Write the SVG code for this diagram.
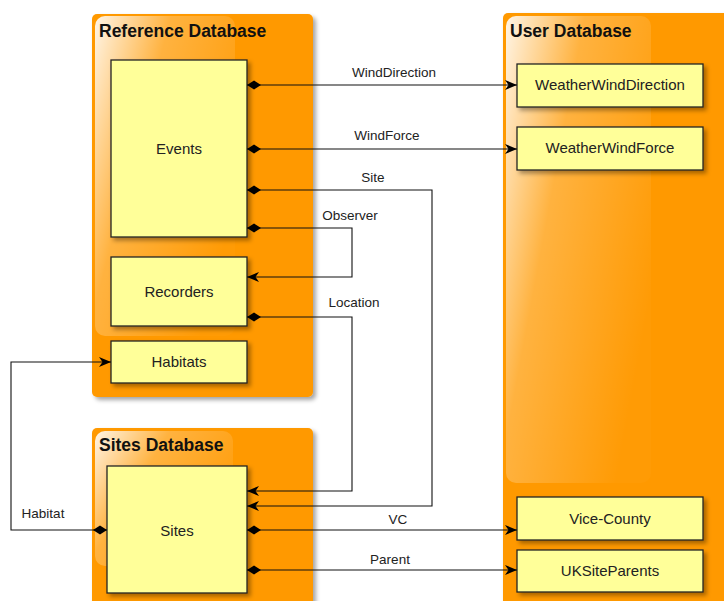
<svg xmlns="http://www.w3.org/2000/svg" width="724" height="601" viewBox="0 0 724 601">
  <defs>
    <filter id="shadow" x="-10%" y="-10%" width="130%" height="130%">
      <feDropShadow dx="3" dy="3" stdDeviation="2" flood-color="#000" flood-opacity="0.35"/>
    </filter>
    <linearGradient id="gloss" x1="0" y1="0" x2="1" y2="0.6">
      <stop offset="0" stop-color="#fff" stop-opacity="0.9"/>
      <stop offset="0.4" stop-color="#fff" stop-opacity="0.25"/>
      <stop offset="1" stop-color="#fff" stop-opacity="0.02"/>
    </linearGradient>
    <marker id="diamond" markerUnits="userSpaceOnUse" markerWidth="16" markerHeight="10" viewBox="0 -5 16 10" refX="0" refY="0" orient="auto">
      <path d="M0,0 L7,-4.5 L14,0 L7,4.5 Z" fill="#000"/>
    </marker>
    <marker id="arrow" markerUnits="userSpaceOnUse" markerWidth="14" markerHeight="12" viewBox="-13 -6 14 12" refX="0" refY="0" orient="auto">
      <path d="M-12,-5 L0,0 L-12,5 L-8.5,0 Z" fill="#000"/>
    </marker>
  </defs>
  <style>
    .group { fill: #ff9900; }
    .gloss { fill: url(#gloss); }
    .title { font-family: "Liberation Sans", Arial, sans-serif; font-weight: bold; font-size: 17.5px; fill: #111; }
    .node rect { fill: #ffff99; stroke: #222; stroke-width: 1.3; }
    .node text { font-family: "Liberation Sans", Arial, sans-serif; font-size: 15px; fill: #222; text-anchor: middle; }
    .edge { fill: none; stroke: #111; stroke-width: 1.1; }
    .label { font-family: "Liberation Sans", Arial, sans-serif; font-size: 13.5px; fill: #222; text-anchor: middle; }
  </style>

  <rect width="724" height="601" fill="#fff"/>

  <!-- group containers -->
  <g id="reference-database">
    <rect class="group" x="92" y="14" width="221" height="383" rx="5" filter="url(#shadow)"/>
    <rect class="gloss" x="95" y="16" width="140" height="320" rx="10"/>
    <text class="title" x="99" y="37">Reference Database</text>
  </g>
  <g id="sites-database">
    <rect class="group" x="92" y="428" width="221" height="190" rx="5" filter="url(#shadow)"/>
    <rect class="gloss" x="95" y="431" width="138" height="135" rx="10"/>
    <text class="title" x="99" y="451">Sites Database</text>
  </g>
  <g id="user-database">
    <rect class="group" x="503" y="13" width="240" height="610" rx="5" filter="url(#shadow)"/>
    <rect class="gloss" x="506" y="16" width="145" height="467" rx="10"/>
    <text class="title" x="510" y="37">User Database</text>
  </g>

  <!-- nodes -->
  <g id="events" class="node">
    <rect x="111" y="60" width="136" height="177" filter="url(#shadow)"/>
    <text x="179" y="154">Events</text>
  </g>
  <g id="recorders" class="node">
    <rect x="111" y="257" width="136" height="69" filter="url(#shadow)"/>
    <text x="179" y="297">Recorders</text>
  </g>
  <g id="habitats" class="node">
    <rect x="111" y="341" width="136" height="42" filter="url(#shadow)"/>
    <text x="179" y="367">Habitats</text>
  </g>
  <g id="sites" class="node">
    <rect x="107" y="466" width="140" height="127" filter="url(#shadow)"/>
    <text x="177" y="536">Sites</text>
  </g>
  <g id="weather-wind-direction" class="node">
    <rect x="517" y="64" width="186" height="43" filter="url(#shadow)"/>
    <text x="610" y="90">WeatherWindDirection</text>
  </g>
  <g id="weather-wind-force" class="node">
    <rect x="517" y="127" width="186" height="43" filter="url(#shadow)"/>
    <text x="610" y="153">WeatherWindForce</text>
  </g>
  <g id="vice-county" class="node">
    <rect x="517" y="497" width="186" height="43" filter="url(#shadow)"/>
    <text x="610" y="524">Vice-County</text>
  </g>
  <g id="uk-site-parents" class="node">
    <rect x="517" y="550" width="186" height="42" filter="url(#shadow)"/>
    <text x="610" y="576">UKSiteParents</text>
  </g>

  <!-- connectors -->
  <g id="connectors">
    <path class="edge" d="M247,85 H517" marker-start="url(#diamond)" marker-end="url(#arrow)"/>
    <text class="label" x="394" y="77">WindDirection</text>

    <path class="edge" d="M247,149 H517" marker-start="url(#diamond)" marker-end="url(#arrow)"/>
    <text class="label" x="387" y="140">WindForce</text>

    <path class="edge" d="M247,190 H432 V506 H247" marker-start="url(#diamond)" marker-end="url(#arrow)"/>
    <text class="label" x="373" y="182">Site</text>

    <path class="edge" d="M247,228 H352 V277 H247" marker-start="url(#diamond)" marker-end="url(#arrow)"/>
    <text class="label" x="350" y="220">Observer</text>

    <path class="edge" d="M247,317 H352 V491 H247" marker-start="url(#diamond)" marker-end="url(#arrow)"/>
    <text class="label" x="354" y="307">Location</text>

    <path class="edge" d="M247,530 H517" marker-start="url(#diamond)" marker-end="url(#arrow)"/>
    <text class="label" x="398" y="524">VC</text>

    <path class="edge" d="M247,570 H517" marker-start="url(#diamond)" marker-end="url(#arrow)"/>
    <text class="label" x="390" y="564">Parent</text>

    <path class="edge" d="M107,530 H11 V362 H111" marker-start="url(#diamond)" marker-end="url(#arrow)"/>
    <text class="label" x="43" y="518">Habitat</text>
  </g>
</svg>
